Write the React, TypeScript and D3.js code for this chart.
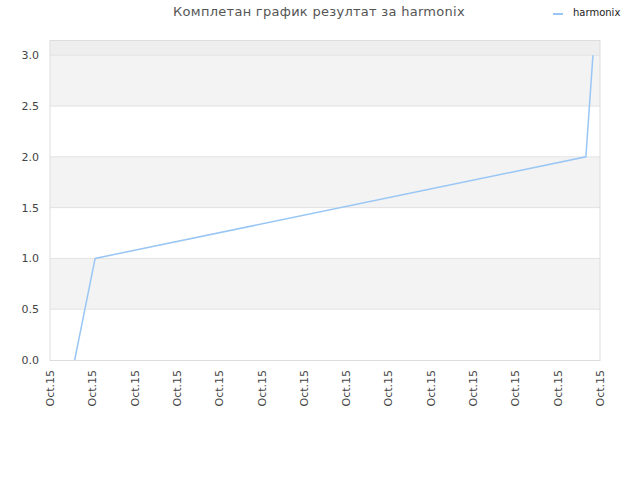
import { useEffect, useRef } from "react";
import * as d3 from "d3";

// series points: time of day on Oct 15 and the value
const pointTimes = ["2015-10-15T00:35", "2015-10-15T01:04", "2015-10-15T12:40", "2015-10-15T12:50"];
const pointValues = [0, 1, 2, 3];
const seriesName = "harmonix";
const titleText = "Комплетан график резултат за harmonix";
const yTicks = [0, 0.5, 1, 1.5, 2, 2.5, 3];

const width = 640;
const height = 480;
const margin = { top: 40, right: 40, bottom: 120, left: 50 };

const parse = d3.timeParse("%Y-%m-%dT%H:%M");

export default function App() {
  const ref = useRef<SVGSVGElement>(null);

  useEffect(() => {
    const svg = d3.select(ref.current);
    svg.selectAll("*").remove();

    const data = pointTimes.map((t, i) => ({ date: parse(t) as Date, value: pointValues[i] }));
    const start = parse("2015-10-15T00:00") as Date;
    const end = parse("2015-10-15T13:00") as Date;

    const x = d3.scaleTime().domain([start, end]).range([margin.left, width - margin.right]);
    const y = d3.scaleLinear().domain([0, 3.15]).range([height - margin.bottom, margin.top]);

    const font = "DejaVu Sans, sans-serif";

    // background bands
    const bands = svg.append("g");
    bands
      .append("rect")
      .attr("x", x.range()[0])
      .attr("width", x.range()[1] - x.range()[0])
      .attr("y", y(3.15))
      .attr("height", y(3) - y(3.15))
      .attr("fill", "#eeeeee");
    [0.5, 1.5, 2.5].forEach((b) => {
      bands
        .append("rect")
        .attr("x", x.range()[0])
        .attr("width", x.range()[1] - x.range()[0])
        .attr("y", y(b + 0.5))
        .attr("height", y(b) - y(b + 0.5))
        .attr("fill", "#f3f3f3");
    });

    // horizontal grid
    svg
      .append("g")
      .selectAll("line")
      .data(yTicks.slice(1))
      .enter()
      .append("line")
      .attr("x1", x.range()[0])
      .attr("x2", x.range()[1])
      .attr("y1", (d) => y(d))
      .attr("y2", (d) => y(d))
      .attr("stroke", "#e2e2e2")
      .attr("stroke-width", 1);

    // frame
    svg
      .append("rect")
      .attr("x", x.range()[0])
      .attr("y", margin.top + 0.5)
      .attr("width", x.range()[1] - x.range()[0])
      .attr("height", y(0) - margin.top)
      .attr("fill", "none")
      .attr("stroke", "#dddddd");

    // y labels
    svg
      .append("g")
      .selectAll("text")
      .data(yTicks)
      .enter()
      .append("text")
      .attr("x", margin.left - 11)
      .attr("y", (d) => y(d) + 4)
      .attr("text-anchor", "end")
      .attr("font-family", font)
      .attr("font-size", 11)
      .attr("fill", "#444")
      .text((d) => d.toFixed(1));

    // x labels
    const fmt = d3.timeFormat("%b.%d");
    svg
      .append("g")
      .selectAll("text")
      .data(d3.timeHour.range(start, d3.timeMinute.offset(end, 1)))
      .enter()
      .append("text")
      .attr("transform", (d) => `translate(${x(d) + 4},${y(0) + 10}) rotate(-90)`)
      .attr("text-anchor", "end")
      .attr("font-family", font)
      .attr("font-size", 11)
      .attr("fill", "#444")
      .text((d) => fmt(d));

    // series line
    const line = d3
      .line<{ date: Date; value: number }>()
      .x((d) => x(d.date))
      .y((d) => y(d.value));
    svg
      .append("path")
      .datum(data)
      .attr("d", line)
      .attr("fill", "none")
      .attr("stroke", "#99c6f5")
      .attr("stroke-width", 1.5);

    // title
    svg
      .append("text")
      .attr("x", 319)
      .attr("y", 16)
      .attr("text-anchor", "middle")
      .attr("font-family", font)
      .attr("font-size", 13)
      .attr("letter-spacing", 0.28)
      .attr("fill", "#555")
      .text(titleText);

    // legend
    svg
      .append("line")
      .attr("x1", 553)
      .attr("x2", 563)
      .attr("y1", 14)
      .attr("y2", 14)
      .attr("stroke", "#99c6f5")
      .attr("stroke-width", 2);
    svg
      .append("text")
      .attr("x", 573)
      .attr("y", 16)
      .attr("font-family", font)
      .attr("font-size", 10)
      .attr("fill", "#222")
      .text(seriesName);
  }, []);

  return (
    <svg
      ref={ref}
      width={width}
      height={height}
      style={{ position: "absolute", left: 0, top: 0, background: "#fff" }}
    />
  );
}
